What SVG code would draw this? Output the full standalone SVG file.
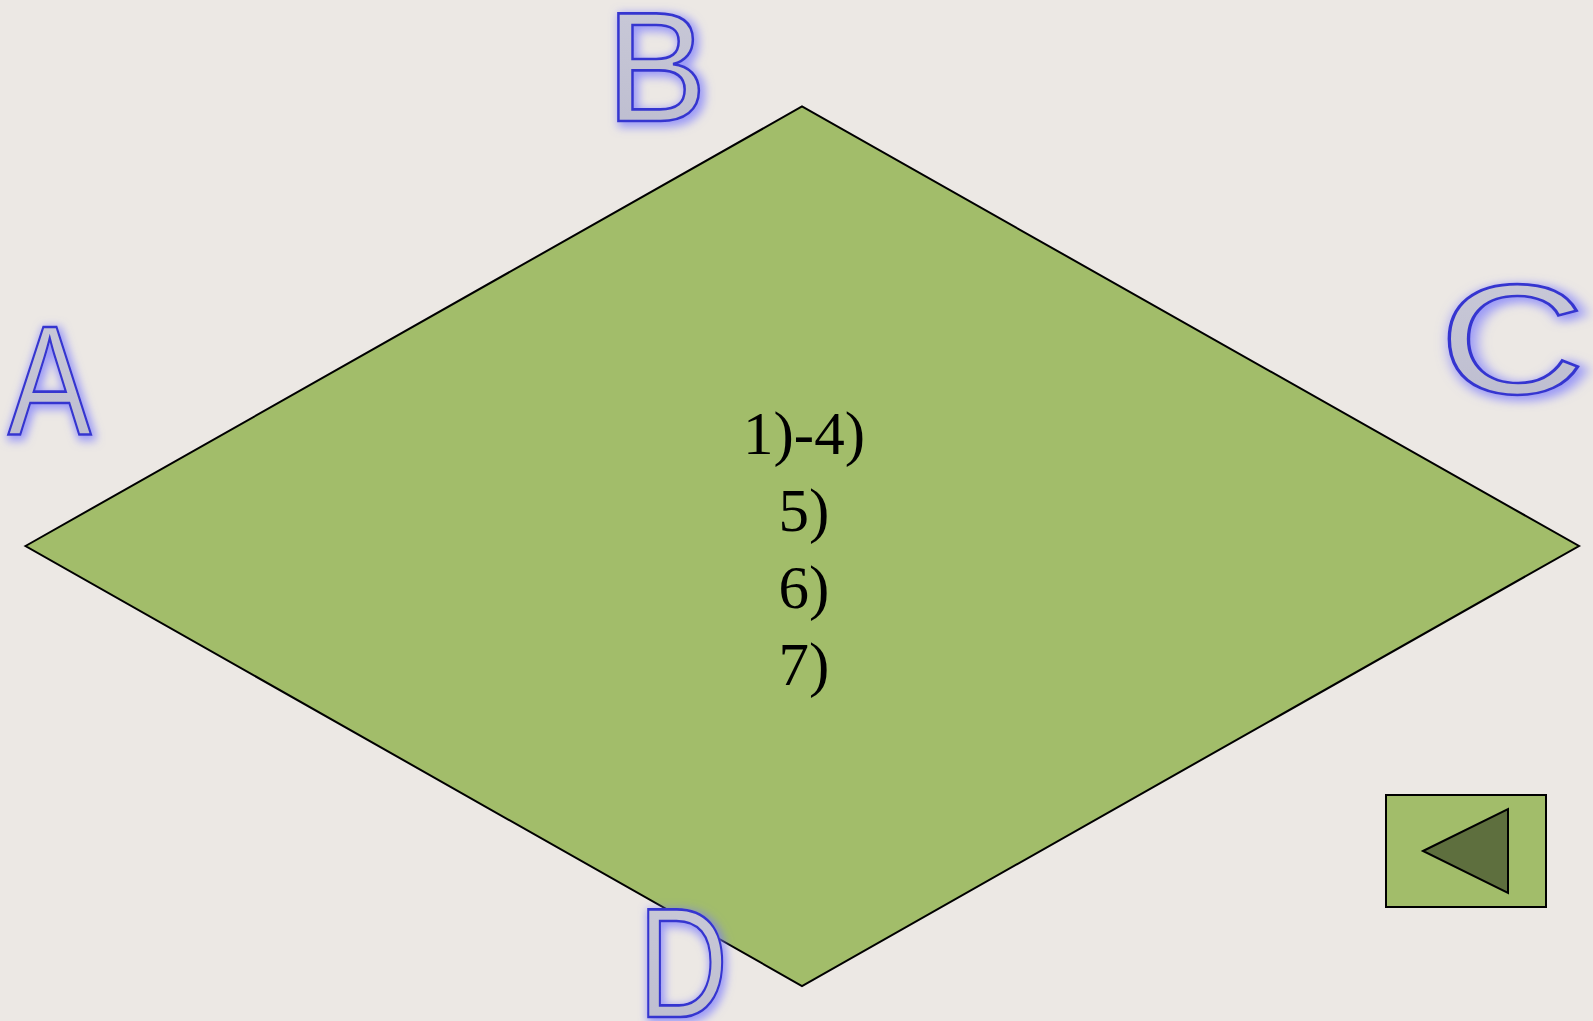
<svg xmlns="http://www.w3.org/2000/svg" width="1593" height="1021" viewBox="0 0 1593 1021">
  <defs>
    <style>
      .shape { stroke: #000; stroke-width: 2; }
      .label { font-family: "Times New Roman", "Liberation Serif", serif; font-size: 61px; fill: #000; text-anchor: middle; }
      .letter { font-family: Arial, "Liberation Sans", sans-serif; font-size: 156px; fill: url(#letterFill); stroke: #3535d0; stroke-width: 2.6; filter: url(#glow); }
    </style>
    <linearGradient id="letterFill" x1="0" y1="0" x2="0" y2="1">
      <stop offset="0" stop-color="#cacad8"/>
      <stop offset="1" stop-color="#bcbccf"/>
    </linearGradient>
    <filter id="glow" x="-30%" y="-30%" width="160%" height="160%">
      <feMorphology in="SourceAlpha" operator="dilate" radius="2" result="d"/>
      <feGaussianBlur in="d" stdDeviation="5" result="b"/>
      <feFlood flood-color="#7878ff" flood-opacity="0.7"/>
      <feComposite in2="b" operator="in" result="g"/>
      <feOffset in="g" dx="3" dy="3" result="go"/>
      <feMerge>
        <feMergeNode in="go"/>
        <feMergeNode in="SourceGraphic"/>
      </feMerge>
    </filter>
  </defs>
  <rect width="1593" height="1021" fill="#ece8e4"/>

  <g id="rhombus">
    <polygon class="shape" points="25.5,546 802,106.5 1579,546 802,986" fill="#a2bd6a"/>
    <text class="label" x="804" y="454">1)-4)</text>
    <text class="label" x="804" y="531">5)</text>
    <text class="label" x="804" y="608">6)</text>
    <text class="label" x="804" y="685">7)</text>
  </g>

  <g id="label-A"><text class="letter" transform="translate(8,434) scale(0.8,1)">A</text></g>
  <g id="label-B"><text class="letter" transform="translate(606,121) scale(0.97,1)">B</text></g>
  <g id="label-C"><text class="letter" transform="translate(1439,393) scale(1.3,1)">C</text></g>
  <g id="label-D"><text class="letter" transform="translate(638,1017) scale(0.8,1)">D</text></g>

  <g id="back-button">
    <rect class="shape" x="1386" y="795" width="160" height="112" fill="#a2bd6a"/>
    <polygon class="shape" points="1423,851 1508,809 1508,893" fill="#5e6f3e"/>
  </g>

  <g id="connectors"></g>
</svg>
